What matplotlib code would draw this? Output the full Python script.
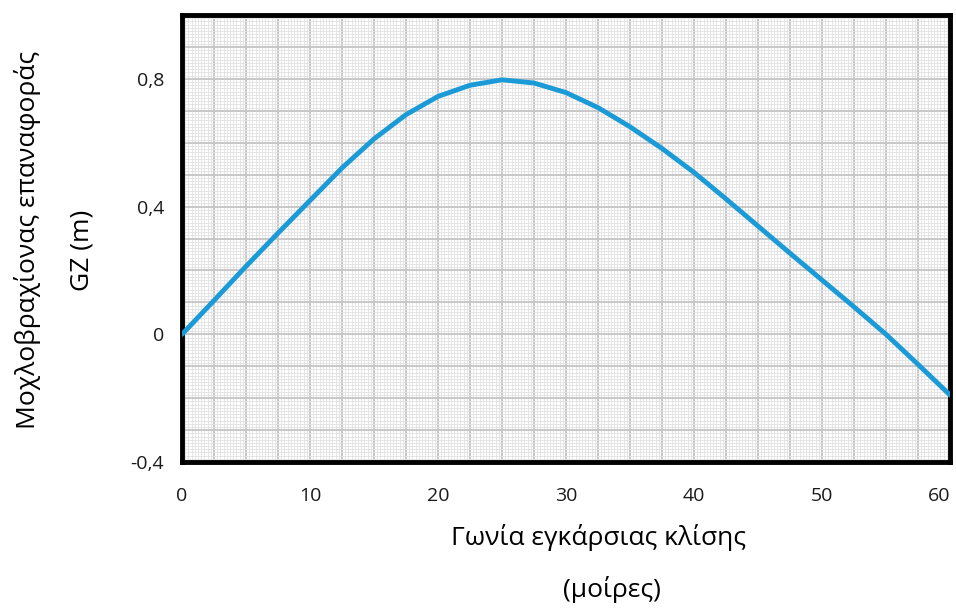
import numpy as np
import matplotlib
matplotlib.use('Agg')
import matplotlib.pyplot as plt
from matplotlib.ticker import MultipleLocator, FuncFormatter

# γωνία κλίσης (μοίρες) και GZ (m), διαβασμένα από το διάγραμμα
angle = [0, 2.5, 5, 7.5, 10, 12.5, 15, 17.5, 20, 22.5, 25, 27.5, 30,
         32.5, 35, 37.5, 40, 42.5, 45, 47.5, 50, 52.5, 55, 57.5, 60]
gz = [0.0, 0.106, 0.213, 0.317, 0.419, 0.521, 0.612, 0.688, 0.745, 0.78,
      0.797, 0.787, 0.757, 0.71, 0.65, 0.582, 0.507, 0.424, 0.339, 0.254,
      0.17, 0.086, 0.0, -0.094, -0.19]

xlabel_txt = 'Γωνία εγκάρσιας κλίσης'
xunit_txt = '(μοίρες)'
ylabel_txt = 'Μοχλοβραχίονας επαναφοράς'
yunit_txt = 'GZ (m)'

plt.rcParams['font.family'] = ['Open Sans', 'DejaVu Sans']

fig = plt.figure(figsize=(9.56, 6.12), dpi=100)
ax = fig.add_axes([0.1904, 0.245, 0.8033, 0.7305])

ax.plot(angle, gz, color='#1a9ad6', linewidth=3.5, solid_capstyle='round',
        solid_joinstyle='round', zorder=3)

ax.set_xlim(0, 60)
ax.set_ylim(-0.4, 1.0)

# πλέγμα τύπου χαρτιού μιλιμετρέ
ax.xaxis.set_major_locator(MultipleLocator(2.5))
ax.yaxis.set_major_locator(MultipleLocator(0.1))
ax.xaxis.set_minor_locator(MultipleLocator(0.25))
ax.yaxis.set_minor_locator(MultipleLocator(0.01))
ax.grid(which='major', color='#c4c4c4', linewidth=1.3)
ax.grid(which='minor', color='#e2e2e2', linewidth=0.6)
ax.set_axisbelow(True)

def fmt_x(v, pos):
    return f'{v:g}' if abs(v / 10 - round(v / 10)) < 1e-6 else ''

def fmt_y(v, pos):
    if abs(v / 0.4 - round(v / 0.4)) < 1e-6 and v < 0.95:
        s = f'{round(v, 1):g}'.replace('.', ',')
        return '0' if s in ('0', '-0') else s
    return ''

ax.xaxis.set_major_formatter(FuncFormatter(fmt_x))
ax.yaxis.set_major_formatter(FuncFormatter(fmt_y))
ax.tick_params(which='both', length=0, labelcolor='#1a1a1a')
ax.tick_params(axis='x', labelsize=14, pad=18)
ax.tick_params(axis='y', labelsize=14, pad=13)

for s in ax.spines.values():
    s.set_linewidth(3.5)
    s.set_color('black')

fig.text(0.626, 0.122, xlabel_txt, ha='center', va='center', fontsize=19)
fig.text(0.640, 0.036, xunit_txt, ha='center', va='center', fontsize=19)
fig.text(0.029, 0.608, ylabel_txt, ha='center', va='center', rotation=90, fontsize=19)
fig.text(0.086, 0.591, yunit_txt, ha='center', va='center', rotation=90, fontsize=19)

# το τελευταίο "60" μένει μέσα στο σχήμα
fig.canvas.draw()
for lab in ax.get_xticklabels():
    if lab.get_text() == '60':
        lab.set_horizontalalignment('right')
        lab.set_x(60.35)

fig.savefig('out.png', dpi=100)
